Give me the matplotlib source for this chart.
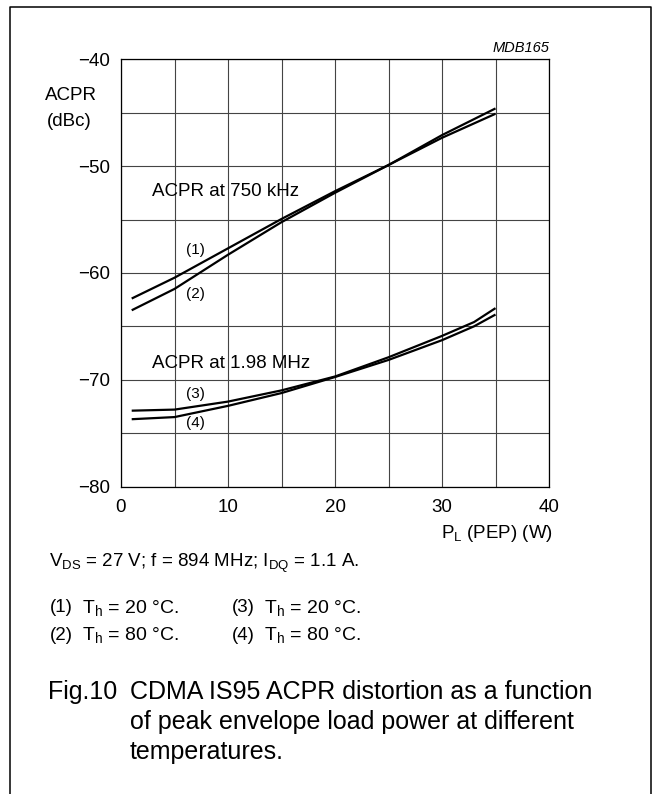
import numpy as np
import matplotlib
matplotlib.use('Agg')
import matplotlib.pyplot as plt
from matplotlib.lines import Line2D

plt.rcParams['font.family'] = ['Liberation Sans', 'DejaVu Sans']
plt.rcParams['mathtext.fontset'] = 'custom'
plt.rcParams['mathtext.rm'] = 'Liberation Sans'
plt.rcParams['mathtext.it'] = 'Liberation Sans:italic'

# values
p_750 = [1, 5, 10, 15, 20, 25, 30, 35]
acpr_1 = [-62.4, -60.45, -57.7, -54.95, -52.35, -49.9, -47.1, -44.6]
acpr_2 = [-63.5, -61.5, -58.3, -55.25, -52.5, -49.9, -47.35, -45.1]

p_198 = [1, 5, 10, 15, 20, 25, 30, 33, 35]
acpr_3 = [-72.9, -72.8, -72.05, -71.0, -69.7, -67.9, -65.9, -64.6, -63.3]
acpr_4 = [-73.7, -73.5, -72.45, -71.25, -69.75, -68.15, -66.3, -65.0, -63.9]

xticks = [0, 10, 20, 30, 40]
yticks = [-80, -70, -60, -50, -40]

FS = 13.5      # general text
FS_CAP = 18    # figure caption

W, H = 653, 794
fig = plt.figure(figsize=(W / 100, H / 100), dpi=100)

# axes box in pixels: left 121, right 549, top 59, bottom 486
ax = fig.add_axes([121 / W, 1 - 486.5 / H, 428 / W, 427.2 / H])
ax.set_xlim(0, 40)
ax.set_ylim(-80, -40)
ax.set_xticks(xticks)
ax.set_yticks(yticks)
ax.set_xticks(np.arange(0, 41, 5), minor=True)
ax.set_yticks(np.arange(-80, -39, 5), minor=True)
ax.grid(which='both', color='#444444', lw=0.8)
ax.set_axisbelow(True)
ax.tick_params(which='both', length=0)
ax.tick_params(axis='x', pad=9, labelsize=FS)
ax.tick_params(axis='y', pad=8, labelsize=FS)
for s in ax.spines.values():
    s.set_linewidth(0.9)

for x, y in [(p_750, acpr_1), (p_750, acpr_2), (p_198, acpr_3), (p_198, acpr_4)]:
    ax.plot(x, y, color='black', lw=1.6, solid_capstyle='butt')

ax.text(2.9, -52.4, 'ACPR at 750 kHz', fontsize=FS, va='center', ha='left')
ax.text(2.9, -68.5, 'ACPR at 1.98 MHz', fontsize=FS, va='center', ha='left')
ax.text(7.0, -57.9, '(1)', fontsize=11, va='center', ha='center')
ax.text(7.0, -62.0, '(2)', fontsize=11, va='center', ha='center')
ax.text(7.0, -71.3, '(3)', fontsize=11, va='center', ha='center')
ax.text(7.0, -74.1, '(4)', fontsize=11, va='center', ha='center')

def ftext(x, y, s, **kw):
    fig.text(x / W, 1 - y / H, s, **kw)

ftext(71, 95, 'ACPR', fontsize=FS, ha='center', va='center')
ftext(69, 122, '(dBc)', fontsize=FS, ha='center', va='center')
ftext(549, 48, 'MDB165', fontsize=10.5, style='italic', ha='right', va='center')
ftext(553, 533, r'P$_\mathregular{L}$ (PEP) (W)', fontsize=FS, ha='right', va='center')

ftext(49, 563, r'V$_\mathregular{DS}$ = 27 V; f = 894 MHz; I$_\mathregular{DQ}$ = 1.1 A.',
      fontsize=FS, ha='left', va='center')
ftext(50, 608, '(1)', fontsize=FS, ha='left', va='center')
ftext(82, 608, r'T$_\mathregular{h}$ = 20 °C.', fontsize=14, ha='left', va='center')
ftext(232, 608, '(3)', fontsize=FS, ha='left', va='center')
ftext(264, 608, r'T$_\mathregular{h}$ = 20 °C.', fontsize=14, ha='left', va='center')
ftext(50, 635, '(2)', fontsize=FS, ha='left', va='center')
ftext(82, 635, r'T$_\mathregular{h}$ = 80 °C.', fontsize=14, ha='left', va='center')
ftext(232, 635, '(4)', fontsize=FS, ha='left', va='center')
ftext(264, 635, r'T$_\mathregular{h}$ = 80 °C.', fontsize=14, ha='left', va='center')

ftext(48, 692, 'Fig.10', fontsize=FS_CAP, ha='left', va='center')
ftext(130, 692, 'CDMA IS95 ACPR distortion as a function', fontsize=FS_CAP, ha='left', va='center')
ftext(130, 722, 'of peak envelope load power at different', fontsize=FS_CAP, ha='left', va='center')
ftext(130, 752, 'temperatures.', fontsize=FS_CAP, ha='left', va='center')

# outer frame (open at the bottom)
fx0, fx1, fy0 = 10 / W, 651 / W, 1 - 7 / H
fig.add_artist(Line2D([fx0, fx0, fx1, fx1], [-0.01, fy0, fy0, -0.01],
                      color='black', lw=1.1, transform=fig.transFigure))

fig.savefig('out.png', dpi=100)
